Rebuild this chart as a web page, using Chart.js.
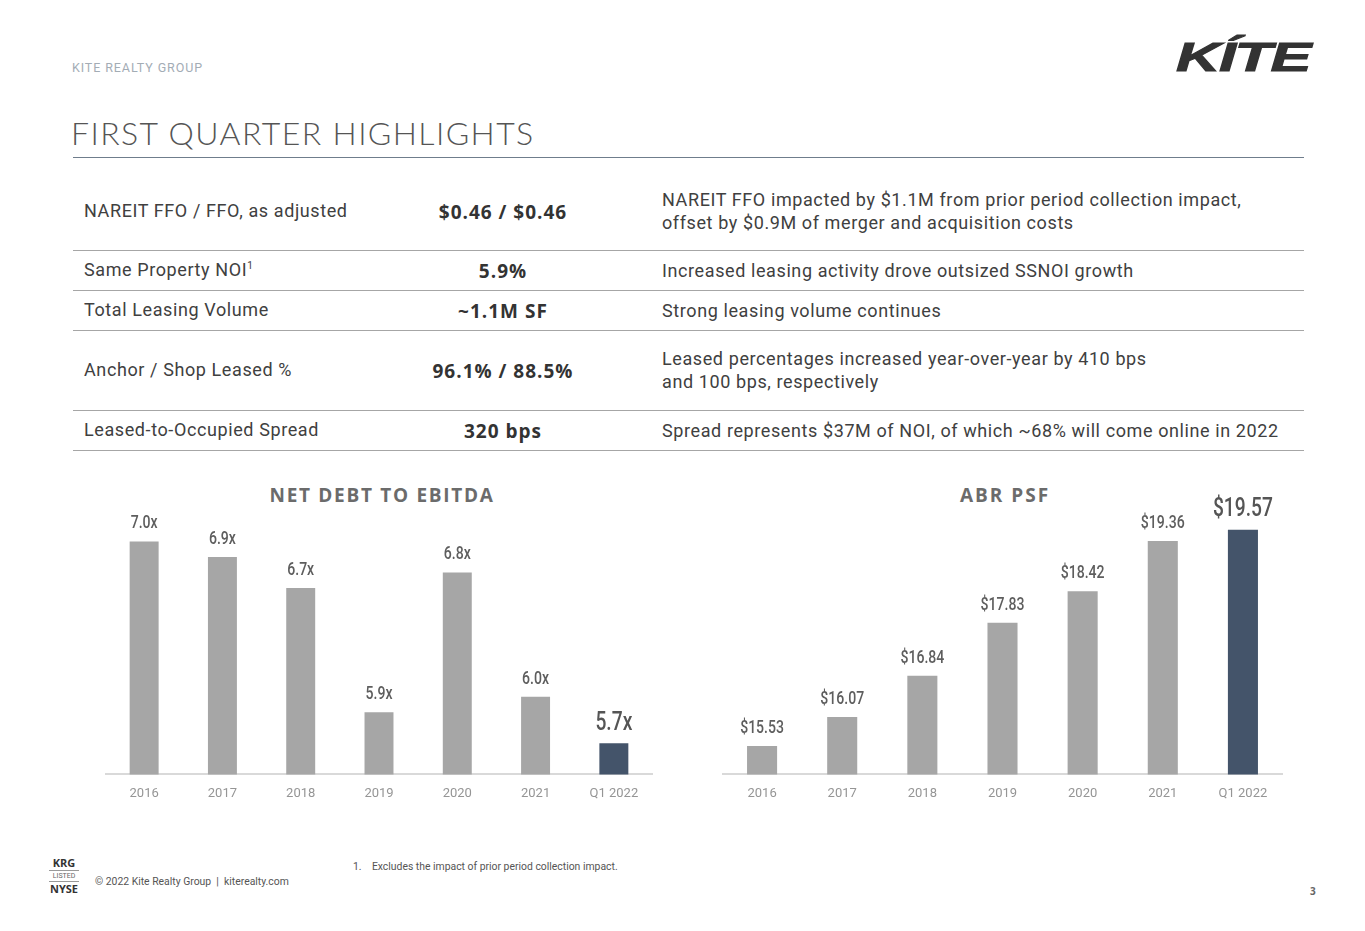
<!DOCTYPE html>
<html>
<head>
<meta charset="utf-8">
<script src="https://cdn.jsdelivr.net/npm/chart.js@4.4.1/dist/chart.umd.min.js"></script>
<style>
	body { margin:0; width:1365px; height:931px; background:#fff; position:relative; overflow:hidden; font-family: Roboto, "Liberation Sans", sans-serif; color:#404040; }
	.abs { position:absolute; }
	.brand { left:72px; top:60px; font-size:12.5px; color:#a3acb5; letter-spacing:0.9px; }
	.logo { left:1176px; top:34px; font: italic 900 41px "Liberation Sans", Arial, sans-serif; color:#333; transform: scaleX(1.5); transform-origin:left top; letter-spacing:-1px; -webkit-text-stroke:1px #333; }
	.pageTit { left:71px; top:113px; font-size:32px; font-weight:300; color:#555; letter-spacing:1.4px; font-family: Lato, Roboto, sans-serif; }
	.titLine { left:73px; top:157px; width:1231px; height:1px; background:#6f7d8c; }
	.row { left:73px; width:1231px; border-bottom:1px solid #a6a6a6; }
	.row .c1 { position:absolute; left:11px; font-size:18px; letter-spacing:0.6px; }
	.row .c2 { position:absolute; left:280px; width:300px; text-align:center; font: 700 19px "Open Sans", sans-serif; letter-spacing:1px; color:#333; }
	.row .c3 { position:absolute; left:589px; font-size:18px; line-height:23px; letter-spacing:0.6px; white-space:nowrap; }
	.chartTit { font: 700 19px "Open Sans", sans-serif; color:#6b6b6b; text-align:center; }
	canvas { position:absolute; }
	.foot { font-size:10.4px; color:#555; }
</style>
</head>
<body>
	<div class="abs brand">KITE REALTY GROUP</div>
	<div class="abs logo">KÍTE</div>
	<div class="abs pageTit">FIRST QUARTER HIGHLIGHTS</div>
	<div class="abs titLine"></div>

	<div class="abs row" style="top:172px;height:78px;">
		<span class="c1" style="top:28px;">NAREIT FFO / FFO, as adjusted</span>
		<span class="c2" style="top:27px;">$0.46 / $0.46</span>
		<span class="c3" style="top:16px;">NAREIT FFO impacted by $1.1M from prior period collection impact,<br>offset by $0.9M of merger and acquisition costs</span>
	</div>
	<div class="abs row" style="top:251px;height:39px;">
		<span class="c1" style="top:8px;">Same Property NOI<sup style="font-size:10px;">1</sup></span>
		<span class="c2" style="top:7px;">5.9%</span>
		<span class="c3" style="top:8px;">Increased leasing activity drove outsized SSNOI growth</span>
	</div>
	<div class="abs row" style="top:291px;height:39px;">
		<span class="c1" style="top:8px;">Total Leasing Volume</span>
		<span class="c2" style="top:7px;">~1.1M SF</span>
		<span class="c3" style="top:8px;">Strong leasing volume continues</span>
	</div>
	<div class="abs row" style="top:331px;height:79px;">
		<span class="c1" style="top:28px;">Anchor / Shop Leased %</span>
		<span class="c2" style="top:27px;">96.1% / 88.5%</span>
		<span class="c3" style="top:16px;">Leased percentages increased year-over-year by 410 bps<br>and 100 bps, respectively</span>
	</div>
	<div class="abs row" style="top:411px;height:39px;">
		<span class="c1" style="top:8px;">Leased-to-Occupied Spread</span>
		<span class="c2" style="top:7px;">320 bps</span>
		<span class="c3" style="top:8px;">Spread represents $37M of NOI, of which ~68% will come online in 2022</span>
	</div>

	<div class="abs chartTit" style="left:182px;top:482px;width:400px;letter-spacing:1.7px;">NET DEBT TO EBITDA</div>
	<div class="abs chartTit" style="left:805px;top:482px;width:400px;letter-spacing:2px;">ABR PSF</div>

	<canvas id="debtChart" style="left:105px;top:490px;width:548px;height:324px;"></canvas>
	<canvas id="abrChart" style="left:722px;top:490px;width:561px;height:324px;"></canvas>

	<div class="abs" style="left:49px;top:857px;width:30px;text-align:center;color:#333;">
		<div style="font:700 11px 'Open Sans',sans-serif;line-height:12px;">KRG</div>
		<div style="border-top:1px solid #999;border-bottom:1px solid #999;font-size:7px;line-height:10px;color:#666;margin:1px 0;">LISTED</div>
		<div style="font:700 11px 'Open Sans',sans-serif;line-height:12px;">NYSE</div>
	</div>
	<div class="abs foot" style="left:95px;top:875px;">© 2022 Kite Realty Group&nbsp; |&nbsp; kiterealty.com</div>
	<div class="abs foot" style="left:353px;top:860px;">1.&nbsp;&nbsp;&nbsp; Excludes the impact of prior period collection impact.</div>
	<div class="abs" style="left:1310px;top:884px;font:700 10px 'Open Sans',sans-serif;color:#666;">3</div>

<script>
	// 공통 데이터
	const years = ['2016', '2017', '2018', '2019', '2020', '2021', 'Q1 2022'];
	const debtValues = [7.0, 6.9, 6.7, 5.9, 6.8, 6.0, 5.7];
	const debtLabels = ['7.0x', '6.9x', '6.7x', '5.9x', '6.8x', '6.0x', '5.7x'];
	const abrValues = [15.53, 16.07, 16.84, 17.83, 18.42, 19.36, 19.57];
	const abrLabels = ['$15.53', '$16.07', '$16.84', '$17.83', '$18.42', '$19.36', '$19.57'];

	const barGray = '#a6a6a6';
	const barHighlight = '#44546a';

	/**
	 * 막대 위 값 라벨 그리기 (좁은 글꼴 흉내: 가로 축소)
	 */
	const valueLabelPlugin = {
		id: 'valueLabels',
		afterDatasetsDraw(chart, args, opts) {
			const ctx = chart.ctx;
			const meta = chart.getDatasetMeta(0);
			meta.data.forEach((bar, i) => {
				const last = i === meta.data.length - 1;
				ctx.save();
				ctx.translate(bar.x, bar.y - (last ? 20 : 18));
				ctx.scale(0.74, 1);
				ctx.textAlign = 'center';
				ctx.textBaseline = 'middle';
				ctx.fillStyle = last ? '#555' : '#5e5e5e';
				ctx.font = (last ? '500 26px ' : '500 19px ') + 'Roboto, sans-serif';
				ctx.fillText(opts.labels[i], 0, 0);
				ctx.restore();
			});
		}
	};

	let makeConfig = (values, labels, min, max, barPct) => {
		return {
			type: 'bar',
			data: {
				labels: years,
				datasets: [{
					data: values,
					backgroundColor: values.map((v, i) => i === values.length - 1 ? barHighlight : barGray),
					barPercentage: barPct,
					categoryPercentage: 1
				}]
			},
			options: {
				responsive: false,
				maintainAspectRatio: false,
				animation: { duration: 0 },
				layout: { padding: 0 },
				plugins: {
					legend: { display: false },
					tooltip: { enabled: false },
					valueLabels: { labels: labels }
				},
				scales: {
					y: { display: false, min: min, max: max },
					x: {
						grid: { display: false, drawTicks: false },
						border: { display: true, color: '#d9d9d9', width: 2 },
						ticks: {
							color: '#959595',
							font: { size: 13, family: 'Roboto' },
							padding: 12
						}
					}
				}
			},
			plugins: [valueLabelPlugin]
		};
	};

	const sizeCanvas = (id, w, h) => {
		const c = document.getElementById(id);
		c.width = w; c.height = h;
		return c;
	};

	new Chart(sizeCanvas('debtChart', 548, 324), makeConfig(debtValues, debtLabels, 5.5, 7.332, 0.37));
	new Chart(sizeCanvas('abrChart', 561, 324), makeConfig(abrValues, abrLabels, 15, 20.31, 0.375));
</script>
</body>
</html>
